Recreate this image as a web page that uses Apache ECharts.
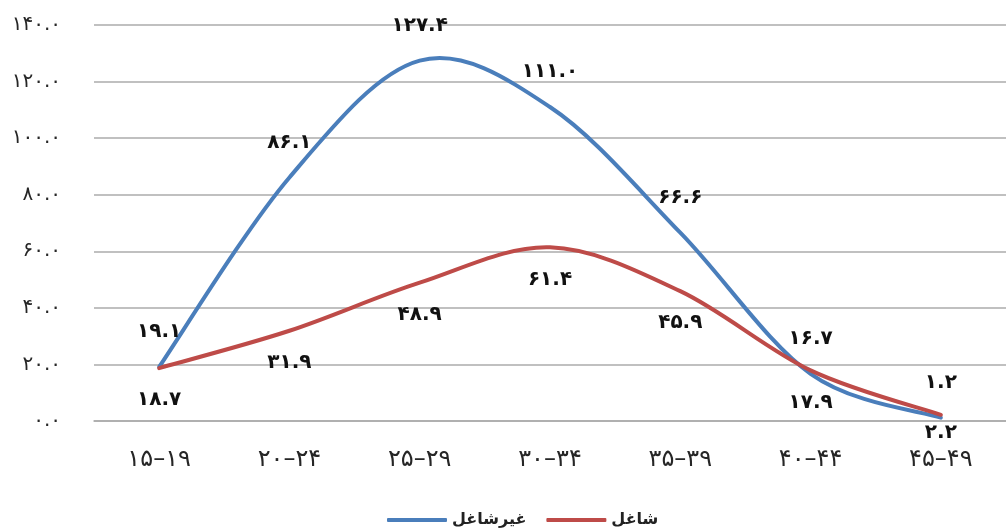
<!DOCTYPE html>
<html>
<head>
<meta charset="utf-8">
<script src="https://cdn.jsdelivr.net/npm/echarts@6/dist/echarts.min.js"></script>
<style>
  html, body { margin: 0; padding: 0; background: #fff; }
  #chart { width: 1006px; height: 530px; }
</style>
</head>
<body>
<div id="chart"></div>
<script>
// Age groups on the category axis
const ageGroups = ['۱۵–۱۹', '۲۰–۲۴', '۲۵–۲۹', '۳۰–۳۴', '۳۵–۳۹', '۴۰–۴۴', '۴۵–۴۹'];
// Series names
const seriesNames = ['غیرشاغل', 'شاغل'];
// Values per age group
const notEmployed = [19.1, 86.1, 127.4, 111.0, 66.6, 16.7, 1.2];
const employed = [18.7, 31.9, 48.9, 61.4, 45.9, 17.9, 2.2];
// Value axis ticks
const yTicks = [0, 20, 40, 60, 80, 100, 120, 140];

const FA_DIGITS = '۰۱۲۳۴۵۶۷۸۹';
const toFa = s => String(s).replace(/\d/g, d => FA_DIGITS[d]);
const fmt1 = v => toFa(Number(v).toFixed(1));

const FONT = "'DejaVu Sans', sans-serif";

// Smooth curve through the points: cubic Bezier segments with
// Catmull-Rom style tangents (control points at 1/6 of neighbour span).
function smoothPath(pts) {
  let d = 'M' + pts[0][0] + ' ' + pts[0][1];
  for (let i = 0; i < pts.length - 1; i++) {
    const p0 = pts[Math.max(i - 1, 0)];
    const p1 = pts[i];
    const p2 = pts[i + 1];
    const p3 = pts[Math.min(i + 2, pts.length - 1)];
    const c1x = p1[0] + (p2[0] - p0[0]) / 6;
    const c1y = p1[1] + (p2[1] - p0[1]) / 6;
    const c2x = p2[0] - (p3[0] - p1[0]) / 6;
    const c2y = p2[1] - (p3[1] - p1[1]) / 6;
    d += ' C' + c1x + ' ' + c1y + ' ' + c2x + ' ' + c2y + ' ' + p2[0] + ' ' + p2[1];
  }
  return d;
}

// One curve series: the path is drawn once, each point gets its value label.
function curveSeries(name, values, color, labelAbove) {
  return {
    name: name,
    type: 'custom',
    data: values.map((v, i) => [i, v]),
    encode: { x: 0, y: 1 },
    itemStyle: { color: color },
    clip: false,
    renderItem: function (params, api) {
      const i = params.dataIndex;
      const pt = api.coord([i, values[i]]);
      const axisY = api.coord([0, 0])[1];
      const ly = labelAbove ? pt[1] - 35 : Math.min(pt[1] + 32, axisY + 12);
      const children = [];
      if (i === 0) {
        const pts = values.map((v, k) => api.coord([k, v]));
        children.push({
          type: 'path',
          shape: { pathData: smoothPath(pts) },
          style: { stroke: color, lineWidth: 4, fill: null, lineCap: 'round', lineJoin: 'round' },
          z2: 1
        });
      }
      children.push({
        type: 'text',
        x: pt[0],
        y: ly,
        style: {
          text: fmt1(values[i]),
          align: 'center',
          verticalAlign: 'middle',
          fill: '#111',
          font: 'bold 20px ' + FONT
        },
        z2: 5
      });
      return { type: 'group', children: children };
    }
  };
}

const chart = echarts.init(document.getElementById('chart'), null, { renderer: 'canvas' });
chart.setOption({
  animation: false,
  backgroundColor: '#ffffff',
  grid: { left: 94, top: 25, width: 922, bottom: 109, containLabel: false },
  xAxis: {
    type: 'category',
    data: ageGroups,
    boundaryGap: true,
    axisLine: { show: true, lineStyle: { color: '#ababab', width: 1.5 } },
    axisTick: { show: false },
    axisLabel: { color: '#262626', fontSize: 24, fontFamily: FONT, margin: 27 }
  },
  yAxis: {
    type: 'value',
    min: yTicks[0],
    max: yTicks[yTicks.length - 1],
    interval: yTicks[1] - yTicks[0],
    axisLine: { show: false },
    axisTick: { show: false },
    splitLine: { lineStyle: { color: '#ababab', width: 1.5 } },
    axisLabel: { color: '#262626', fontSize: 20, fontFamily: FONT, margin: 33, formatter: v => fmt1(v) }
  },
  legend: {
    left: 382,
    top: 507,
    itemWidth: 60,
    itemHeight: 4,
    itemGap: 20,
    icon: 'roundRect',
    textStyle: { color: '#222', fontSize: 16, fontFamily: FONT, fontWeight: 'bold' },
    data: seriesNames
  },
  series: [
    curveSeries(seriesNames[0], notEmployed, '#4A7EBB', true),
    curveSeries(seriesNames[1], employed, '#BE4B48', false)
  ]
});
</script>
</body>
</html>
